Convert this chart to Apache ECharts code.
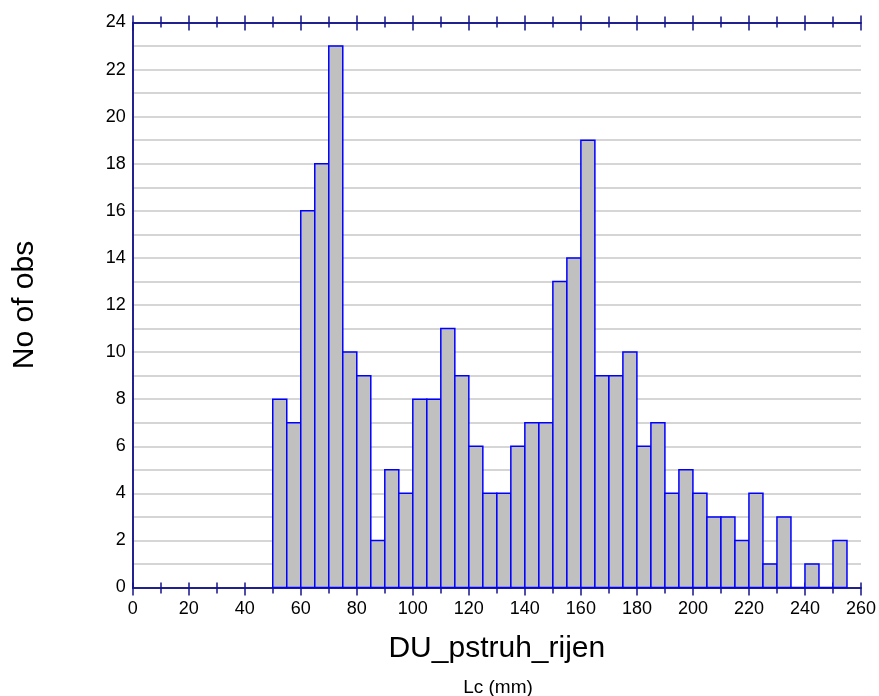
<!DOCTYPE html>
<html>
<head>
<meta charset="utf-8">
<script src="https://cdn.jsdelivr.net/npm/echarts@6/dist/echarts.min.js"></script>
<style>
  html, body { margin: 0; padding: 0; background: #fff; }
  #chart { width: 879px; height: 696px; }
</style>
</head>
<body>
<div id="chart"></div>
<script>
// histogram bins (width 5 mm), lower edges and counts
const binStarts = [50, 55, 60, 65, 70, 75, 80, 85, 90, 95,
  100, 105, 110, 115, 120, 125, 130, 135, 140, 145,
  150, 155, 160, 165, 170, 175, 180, 185, 190, 195,
  200, 205, 210, 215, 220, 225, 230, 235, 240, 245, 250];
const counts = [8, 7, 16, 18, 23, 10, 9, 2, 5, 4,
  8, 8, 11, 9, 6, 4, 4, 6, 7, 7,
  13, 14, 19, 9, 9, 10, 6, 7, 4, 5,
  4, 3, 3, 2, 4, 1, 3, 0, 1, 0, 2];
const binWidth = 5;
const xTitle = 'DU_pstruh_rijen';
const xSubTitle = 'Lc (mm)';
const yTitle = 'No of obs';

const axisColor = '#14148a';
const font = '"Liberation Sans", Arial, sans-serif';

const chart = echarts.init(document.getElementById('chart'));

// x axis copies: bottom/top, ticks inside/outside so they cross the line
function xAx(pos, inside, len, minorLen, withLabel) {
  return {
    type: 'value', position: pos, min: 0, max: 260, interval: 20,
    axisLine: { show: true, onZero: false, lineStyle: { color: axisColor, width: 1.5 } },
    axisTick: { show: true, inside: inside, length: len, lineStyle: { color: axisColor, width: 1.5 } },
    minorTick: { show: true, splitNumber: 2, length: minorLen, lineStyle: { color: axisColor, width: 1.5 } },
    axisLabel: { show: withLabel, color: '#000', fontSize: 18, fontFamily: font, margin: 13 },
    splitLine: { show: false },
    name: withLabel ? xTitle : '',
    nameLocation: 'middle', nameGap: 46,
    nameTextStyle: { color: '#000', fontSize: 30, fontFamily: font }
  };
}

const data = binStarts.map((s, i) => [s, s + binWidth, counts[i]]);

chart.setOption({
  animation: false,
  grid: { left: 132.7, right: 16.3, top: 22.5, bottom: 108.5 },
  xAxis: [
    xAx('bottom', false, 8, 6, true),
    xAx('bottom', true, 5, 5, false),
    xAx('top', false, 7, 6, false),
    xAx('top', true, 8, 5, false)
  ],
  yAxis: [{
    type: 'value', min: 0, max: 24, interval: 2,
    axisLine: { show: true, lineStyle: { color: axisColor, width: 1.5 } },
    axisTick: { show: false },
    axisLabel: { color: '#000', fontSize: 18, fontFamily: font, margin: 7 },
    splitLine: { show: true, lineStyle: { color: '#c8c8c8', width: 1.5 } },
    minorTick: { show: false, splitNumber: 2 },
    minorSplitLine: { show: true, lineStyle: { color: '#c8c8c8', width: 1.5 } },
    name: yTitle, nameLocation: 'middle', nameGap: 93,
    nameTextStyle: { color: '#000', fontSize: 30, fontFamily: font }
  }, {
    type: 'value', position: 'right', min: 0, max: 24, interval: 2,
    axisLine: { show: true, lineStyle: { color: axisColor, width: 1.5 } },
    axisTick: { show: false }, axisLabel: { show: false }, splitLine: { show: false }
  }],
  graphic: [{
    type: 'text', x: 498, y: 688,
    style: { text: xSubTitle, fill: '#000', font: '19px ' + font, textAlign: 'center', textVerticalAlign: 'middle' }
  }],
  series: [{
    type: 'custom',
    data: data,
    encode: { x: [0, 1], y: 2 },
    renderItem: function (params, api) {
      const top = api.coord([api.value(0), api.value(2)]);
      const base = api.coord([api.value(1), 0]);
      return {
        type: 'rect',
        shape: { x: top[0], y: top[1], width: base[0] - top[0], height: base[1] - top[1] },
        style: { fill: '#c0c0c0', stroke: '#0000ff', lineWidth: 1.5 }
      };
    }
  }]
});
</script>
</body>
</html>
